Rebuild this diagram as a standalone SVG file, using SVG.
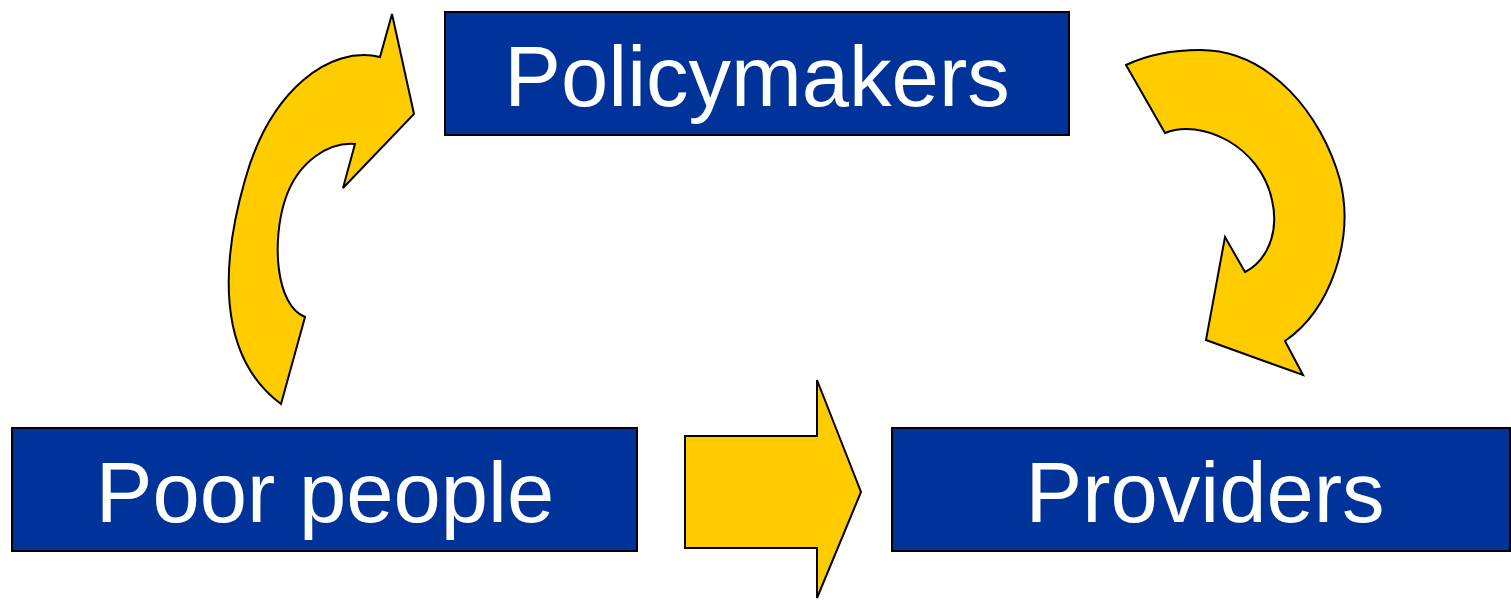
<svg xmlns="http://www.w3.org/2000/svg" width="1511" height="600" viewBox="0 0 1511 600">
<style>
.box{fill:#003399;stroke:#000;stroke-width:2}
.lbl{fill:#fff;font-family:"Liberation Sans",Arial,sans-serif;font-size:85px;text-anchor:middle}
.arr{fill:#FFCC00;stroke:#000;stroke-width:2;stroke-linejoin:miter}
</style>
<rect width="1511" height="600" fill="#fff"/>
<g id="connectors">
<path class="arr" d="M281,404 L305,317 C275,305 272,240 285,200 C298,160 330,142 355,144 L343,188 L414,114 L392,14 L380,57 C330,45 270,90 245,180 C222,260 215,355 281,404 Z"/>
<path class="arr" d="M1126,65 L1165,133 C1200,118 1260,145 1272,200 C1280,235 1265,262 1245,272 L1225,237 L1206,340 L1303,375 L1285,341 C1330,310 1355,240 1340,180 C1322,115 1270,50 1200,50 C1170,50 1145,56 1126,65 Z"/>
<path class="arr" d="M685,436 L817,436 L817,380 L861,492 L817,598 L817,548 L685,548 Z"/>
</g>
<g id="policymakers">
<rect class="box" x="445" y="12" width="624" height="123"/>
<text class="lbl" x="757" y="106">Policymakers</text>
</g>
<g id="poor-people">
<rect class="box" x="12" y="428" width="625" height="123"/>
<text class="lbl" x="325" y="522">Poor people</text>
</g>
<g id="providers">
<rect class="box" x="892" y="428" width="618" height="123"/>
<text class="lbl" x="1205" y="522">Providers</text>
</g>
</svg>
